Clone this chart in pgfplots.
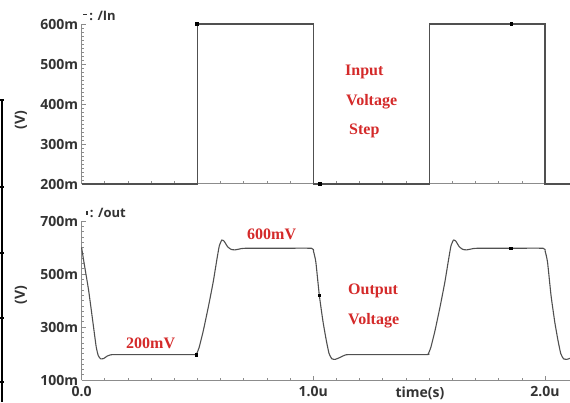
\documentclass[border=0pt]{standalone}
\usepackage{fontspec}
\setmainfont{Open Sans}
\newfontfamily\timesfont{Liberation Serif}
\usepackage{pgfplots}
\pgfplotsset{compat=1.18}
\definecolor{axgray}{HTML}{8C8C8C}
\definecolor{curvec}{HTML}{505050}
\definecolor{lblred}{HTML}{D42A2A}
\definecolor{ticktext}{HTML}{333333}
\pgfplotsset{
  myaxis/.style={
    scale only axis, width=488.4pt,
    xmin=0, xmax=2.108,
    axis x line*=bottom, axis y line*=left,
    axis line style={-, axgray, line width=1pt},
    xtick={0,1,2}, minor x tick num=9,
    tick align=inside, major tick length=4pt, minor tick length=2.5pt,
    every tick/.style={axgray, line width=0.6pt},
    tick label style={font=\fontsize{14}{14}\selectfont\bfseries, text=ticktext},
    xticklabel style={yshift=-2.5pt},
    clip=false,
  }
}
\begin{document}
\begin{tikzpicture}[x=1pt,y=1pt]
\useasboundingbox (0,0) rectangle (570,402);
% top panel
\begin{axis}[myaxis, at={(81.6pt,218pt)}, anchor=south west, height=160pt,
  ymin=0.2, ymax=0.6, ytick={0.2,0.3,0.4,0.5,0.6},
  yticklabels={200m,300m,400m,500m,600m}, minor y tick num=9,
  xticklabels={}]
\addplot[curvec, line width=1.1pt] coordinates {
 (0,0.2) (0.5,0.2) (0.5,0.6) (1.0,0.6) (1.0,0.2) (1.5,0.2) (1.5,0.6) (2.0,0.6) (2.0,0.2) (2.108,0.2)};
\addplot[only marks, mark=square*, mark size=1.3pt, black] coordinates {
 (0.497,0.6) (1.027,0.2) (1.855,0.6)};
\end{axis}
% bottom panel
\begin{axis}[myaxis, at={(81.6pt,22pt)}, anchor=south west, height=159pt,
  ymin=0.1, ymax=0.7, ytick={0.1,0.3,0.5,0.7},
  yticklabels={100m,300m,500m,700m}, minor y tick num=9,
  xticklabels={0.0,1.0u,2.0u}]
\addplot[curvec, line width=1.1pt, smooth, tension=0.3] coordinates {
 (0,0.600) (0.010,0.545) (0.030,0.440) (0.050,0.310) (0.063,0.225) (0.072,0.192) (0.082,0.180) (0.095,0.181) (0.110,0.190) (0.125,0.195) (0.150,0.196)
 (0.300,0.196) (0.490,0.196)
 (0.497,0.200) (0.507,0.222) (0.525,0.285) (0.548,0.380) (0.568,0.470) (0.583,0.550) (0.594,0.605) (0.605,0.628) (0.615,0.624) (0.630,0.603) (0.645,0.593) (0.662,0.591) (0.685,0.595) (0.705,0.597)
 (0.850,0.597) (0.992,0.597)
 (1.001,0.585) (1.011,0.545) (1.026,0.420) (1.042,0.320) (1.056,0.250) (1.068,0.200) (1.080,0.180) (1.095,0.178) (1.115,0.185) (1.140,0.195) (1.170,0.196)
 (1.300,0.196) (1.490,0.196)
 (1.497,0.200) (1.507,0.222) (1.525,0.285) (1.548,0.380) (1.568,0.470) (1.583,0.550) (1.594,0.605) (1.605,0.628) (1.615,0.624) (1.630,0.603) (1.645,0.593) (1.662,0.591) (1.685,0.595) (1.705,0.597)
 (1.850,0.597) (1.992,0.597)
 (2.001,0.585) (2.011,0.545) (2.026,0.420) (2.042,0.320) (2.056,0.250) (2.068,0.200) (2.080,0.180) (2.095,0.178) (2.108,0.182)};
\addplot[only marks, mark=square*, mark size=1.3pt, black] coordinates {
 (0.494,0.196) (1.026,0.42) (1.852,0.597)};
\end{axis}
% panel titles and y labels
\node[anchor=base west, inner sep=0, text=ticktext, font=\fontsize{13}{13}\selectfont\bfseries] at (83,381) {\rule[6pt]{4pt}{1.3pt}\,: /In};
\node[anchor=base west, inner sep=0, text=ticktext, font=\fontsize{13}{13}\selectfont\bfseries] at (86,184) {\rule[3pt]{1.6pt}{4pt}\,: /out};
\node[rotate=90, inner sep=0, text=ticktext, font=\fontsize{14}{14}\selectfont\bfseries] at (21,282) {(V)};
\node[rotate=90, inner sep=0, text=ticktext, font=\fontsize{14}{14}\selectfont\bfseries] at (21,107) {(V)};
\node[anchor=base, inner sep=0, text=ticktext, font=\fontsize{14}{14}\selectfont\bfseries] at (420,4.5) {time(s)};
% red annotations
\begin{scope}[every node/.style={anchor=base west, inner sep=0, text=lblred, font=\timesfont\fontsize{16}{16}\selectfont\bfseries}]
\node at (345,326.4) {Input};
\node at (346,296.4) {Voltage};
\node at (349,267.4) {Step};
\node at (247,163) {600mV};
\node at (126,54) {200mV};
\node at (348,108) {Output};
\node at (348,78) {Voltage};
\end{scope}
% cut-off border at the left edge
\draw[black, line width=1.2pt] (2,302) -- (2,0);
\foreach \yy in {302,215,149,84,20} \draw[black, line width=1.2pt] (0,\yy) -- (4,\yy);
\end{tikzpicture}
\end{document}
